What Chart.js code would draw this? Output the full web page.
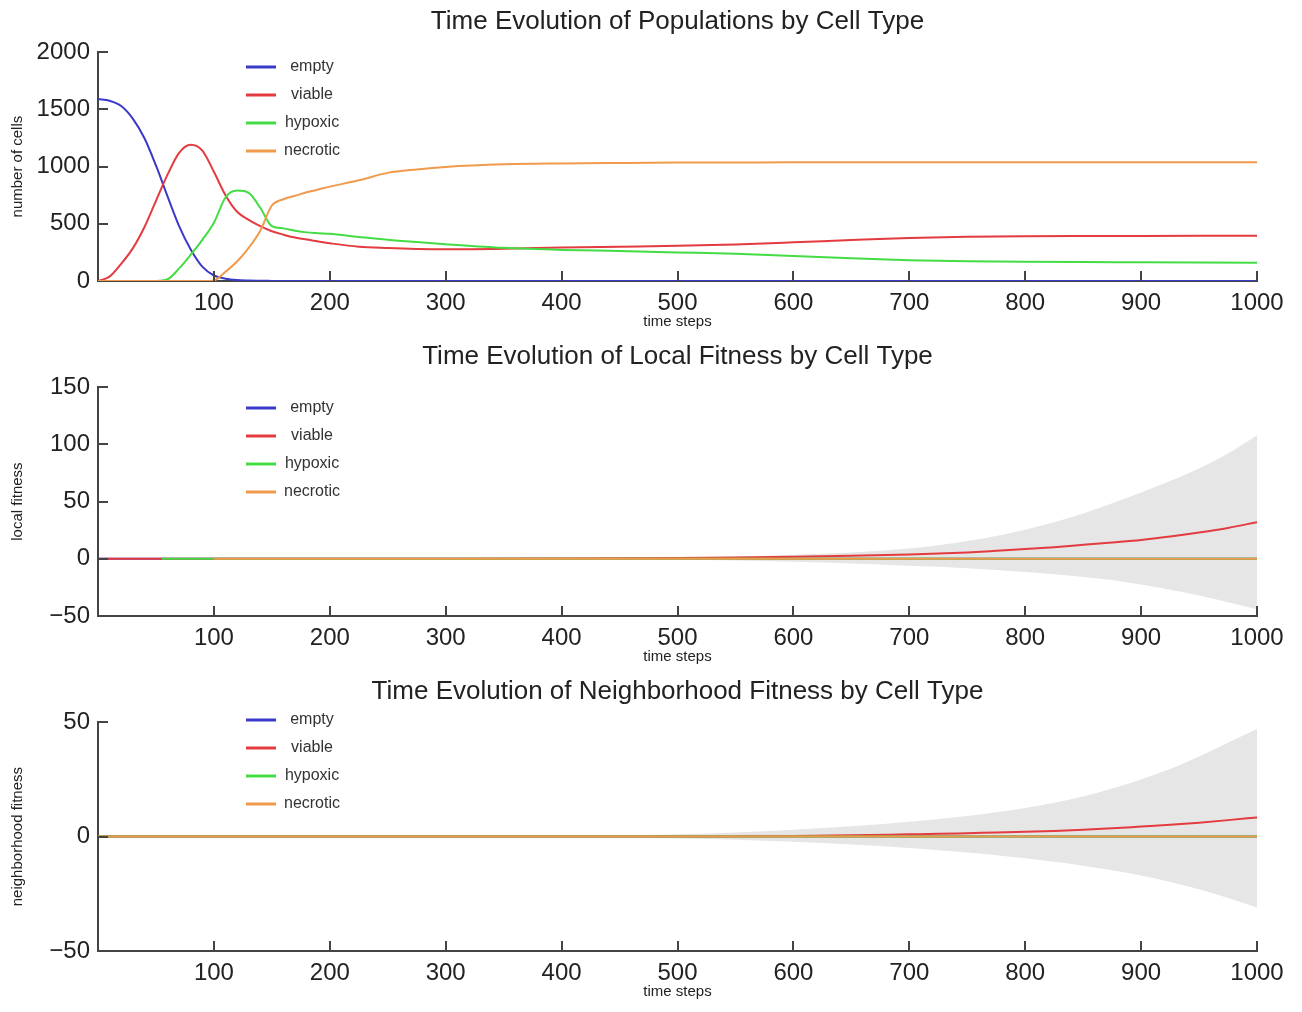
<!DOCTYPE html>
<html>
<head>
<meta charset="utf-8">
<script src="https://cdn.jsdelivr.net/npm/chart.js@4.4.1/dist/chart.umd.min.js"></script>
<style>
  body { margin: 0; background: #fff; }
  .panel { position: absolute; left: 0; width: 1302px; height: 342px; }
</style>
</head>
<body>
<div class="panel" style="top:0"><canvas id="popChart" width="1302" height="342"></canvas></div>
<div class="panel" style="top:335px"><canvas id="localChart" width="1302" height="342"></canvas></div>
<div class="panel" style="top:670px"><canvas id="neighChart" width="1302" height="342"></canvas></div>
<script>
// series labels + colours
const cellTypes = ['empty', 'viable', 'hypoxic', 'necrotic'];
const cellColors = ['#3a3ac8', '#e33b3f', '#44dc44', '#f09a4c'];
const xTickValues = [100, 200, 300, 400, 500, 600, 700, 800, 900, 1000];

// top panel: populations
const popSteps    = [0,10,20,30,40,50,60,70,80,90,100,110,120,130,140,150,160,170,180,190,200,225,250,275,300,350,400,450,500,550,600,650,700,750,800,850,900,950,1000];
const popEmpty    = [1590,1575,1530,1420,1250,1010,740,480,275,125,48,20,8,4,2,1,0,0,0,0,0,0,0,0,0,0,0,0,0,0,0,0,0,0,0,0,0,0,0];
const popViable   = [0,38,150,285,470,700,930,1120,1190,1140,955,750,605,535,480,435,405,380,362,345,330,300,288,280,277,282,292,300,308,320,338,358,376,386,391,393,394,395,396];
const popHypoxic  = [0,0,0,0,0,0,15,110,230,360,510,730,790,770,640,480,460,440,425,418,412,385,360,340,322,290,272,262,250,238,218,198,182,173,168,165,164,162,160];
const popNecrotic = [0,0,0,0,0,0,0,0,0,0,5,80,170,290,440,660,715,745,775,800,825,880,945,975,997,1020,1028,1032,1035,1036,1037,1037,1038,1038,1038,1038,1038,1038,1038];

// fitness panels share these steps
const fitSteps = [0,55,100,200,300,400,450,500,550,600,650,700,725,750,775,800,825,850,875,900,925,950,975,1000];

const localEmpty    = [0,0,0,0,0,0,0,0,0,0,0,0,0,0,0,0,0,0,0,0,0,0,0,0];
const localViable   = [0,0,0,0,0,0.2,0.4,0.7,1.1,1.7,2.6,3.8,4.6,5.6,7,8.5,10.2,12.2,14.3,16.5,19.5,23,27,32];
const localHypoxic  = [null,0,0,0,0,0,0,0,0,0,0,0,0,0,0,0,0,0,0,0,0,0,0,0];
const localNecrotic = [null,null,0,0,0,0,0,0,0,0,0,0,0,0,0,0,0,0,0,0,0,0,0,0];
const localUpper    = [0,0,0,0,0,0.3,0.7,1.3,2.1,3.6,5.6,9,11.8,15.5,20,25.5,32,39.5,48.5,58,68,79,92,108];
const localLower    = [0,0,0,0,0,-0.2,-0.5,-0.9,-1.5,-2.5,-4,-6,-7,-8.3,-9.8,-11.5,-13.5,-15.8,-18.5,-22.5,-27,-32,-38,-44];

const neighEmpty    = [0,0,0,0,0,0,0,0,0,0,0,0,0,0,0,0,0,0,0,0,0,0,0,0];
const neighViable   = [0,0,0,0,0,0,0,0,0.1,0.3,0.6,1,1.2,1.5,1.8,2.1,2.5,3,3.6,4.4,5.2,6.1,7.2,8.4];
const neighHypoxic  = [0,0,0,0,0,0,0,0,0,0,0,0,0,0,0,0,0,0,0,0,0,0,0,0];
const neighNecrotic = [0,0,0,0,0,0,0,0,0,0,0,0,0,0,0,0,0,0,0,0,0,0,0,0];
const neighUpper    = [0,0,0,0,0,0.1,0.5,1,1.8,3,4.5,6.5,7.7,9,10.6,12.5,14.8,17.5,21,25,29.5,35,41,47];
const neighLower    = [0,0,0,0,0,-0.1,-0.4,-0.8,-1.4,-2.3,-3.5,-5,-6,-7,-8.2,-9.5,-11,-12.7,-14.7,-17,-19.8,-23,-26.8,-31];

Chart.defaults.font.family = "'Liberation Sans', Arial, Helvetica, sans-serif";
Chart.defaults.color = '#222';

function pts(xs, ys) {
  return xs.map((x, i) => ({ x: x, y: ys[i] }));
}

function cellSets(xs, series) {
  // later series draw on top, like the original plot
  return series.map((ys, i) => ({
    label: cellTypes[i],
    data: pts(xs, ys),
    borderColor: cellColors[i],
    borderWidth: 2,
    pointRadius: 0,
    fill: false,
    cubicInterpolationMode: 'monotone',
    order: 4 - i
  }));
}

function bandSets(xs, upper, lower) {
  return [
    { label: 'band-hi', data: pts(xs, upper), borderWidth: 0, pointRadius: 0, fill: '+1',
      backgroundColor: '#e6e6e6', cubicInterpolationMode: 'monotone', order: 10 },
    { label: 'band-lo', data: pts(xs, lower), borderWidth: 0, pointRadius: 0, fill: false,
      cubicInterpolationMode: 'monotone', order: 11 }
  ];
}

const insideLegend = {
  id: 'insideLegend',
  afterDraw(chart, args, opts) {
    const ctx = chart.ctx;
    ctx.save();
    ctx.font = "16px 'Liberation Sans', Arial, sans-serif";
    ctx.textAlign = 'center';
    ctx.textBaseline = 'middle';
    chart.data.datasets.slice(0, 4).forEach((ds, i) => {
      const y = opts.top + i * 28;
      ctx.strokeStyle = ds.borderColor;
      ctx.lineWidth = 3;
      ctx.beginPath();
      ctx.moveTo(246, y);
      ctx.lineTo(276, y);
      ctx.stroke();
      ctx.fillStyle = '#333';
      ctx.fillText(ds.label, 312, y);
    });
    ctx.restore();
  }
};

// tick marks point into the plot
const inwardTicks = {
  id: 'inwardTicks',
  afterDraw(chart) {
    const { ctx, chartArea, scales } = chart;
    ctx.save();
    ctx.strokeStyle = '#444';
    ctx.lineWidth = 2;
    ctx.beginPath();
    scales.x.ticks.forEach(t => {
      const px = Math.round(scales.x.getPixelForValue(t.value));
      ctx.moveTo(px, chartArea.bottom);
      ctx.lineTo(px, chartArea.bottom - 10);
    });
    scales.y.ticks.forEach(t => {
      if (t.value === scales.y.min) return;
      const py = Math.round(scales.y.getPixelForValue(t.value));
      ctx.moveTo(chartArea.left, py);
      ctx.lineTo(chartArea.left + 10, py);
    });
    ctx.stroke();
    ctx.restore();
  }
};

function makeChart(id, title, yTitle, yMin, yMax, yStep, datasets, legendTop) {
  return new Chart(document.getElementById(id).getContext('2d'), {
    type: 'line',
    data: { datasets: datasets },
    options: {
      responsive: false,
      animation: false,
      events: [],
      layout: { padding: { left: 0, right: 45, top: 0, bottom: 0 } },
      plugins: {
        legend: { display: false },
        tooltip: { enabled: false },
        title: {
          display: true, text: title, fullSize: false,
          font: { size: 26, weight: 'normal' }, color: '#222',
          padding: { top: 6, bottom: 15 }
        },
        insideLegend: { top: legendTop }
      },
      scales: {
        x: {
          type: 'linear', min: 0, max: 1000,
          afterBuildTicks: s => { s.ticks = xTickValues.map(v => ({ value: v })); },
          ticks: { font: { size: 24 }, color: '#222', padding: 8, maxRotation: 0, autoSkip: false,
                   callback: v => String(v) },
          grid: { drawOnChartArea: false, drawTicks: false },
          border: { color: '#444', width: 2 },
          title: { display: true, text: 'time steps', font: { size: 15 }, color: '#222',
                   padding: { top: 0, bottom: 11 } },
          afterFit: s => { s.height = 61; }
        },
        y: {
          min: yMin, max: yMax,
          ticks: { stepSize: yStep, font: { size: 24 }, color: '#222', padding: 8,
                   callback: v => v < 0 ? '\u2212' + Math.abs(v) : String(v) },
          grid: { drawOnChartArea: false, drawTicks: false },
          border: { color: '#444', width: 2 },
          title: { display: true, text: yTitle, font: { size: 15 }, color: '#222',
                   padding: { top: 9, bottom: 0 } },
          afterFit: s => { s.width = 98; }
        }
      }
    },
    plugins: [insideLegend, inwardTicks]
  });
}

makeChart('popChart', 'Time Evolution of Populations by Cell Type', 'number of cells', 0, 2000, 500,
  cellSets(popSteps, [popEmpty, popViable, popHypoxic, popNecrotic]), 67);

makeChart('localChart', 'Time Evolution of Local Fitness by Cell Type', 'local fitness', -50, 150, 50,
  cellSets(fitSteps, [localEmpty, localViable, localHypoxic, localNecrotic])
    .concat(bandSets(fitSteps, localUpper, localLower)), 73);

makeChart('neighChart', 'Time Evolution of Neighborhood Fitness by Cell Type', 'neighborhood fitness', -50, 50, 50,
  cellSets(fitSteps, [neighEmpty, neighViable, neighHypoxic, neighNecrotic])
    .concat(bandSets(fitSteps, neighUpper, neighLower)), 50);
</script>
</body>
</html>
